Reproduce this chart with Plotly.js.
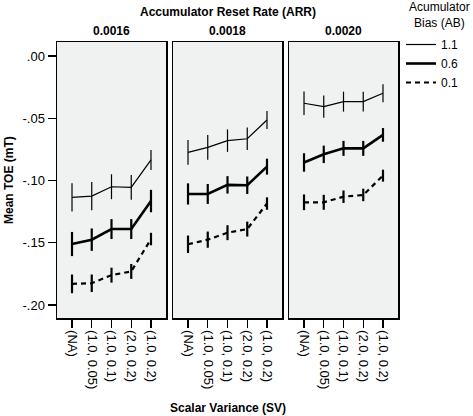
<!DOCTYPE html>
<html>
<head>
<meta charset="utf-8">
<script src="https://cdn.plot.ly/plotly-3.0.1.min.js"></script>
<style>html,body{margin:0;padding:0;background:#fff;}#chart{width:473px;height:416px;}</style>
</head>
<body>
<div id="chart"></div>
<script>
// Data
const categories = ["(NA)", "(1.0, 0.05)", "(1.0, 0.1)", "(2.0, 0.2)", "(1.0, 0.2)"];
const panelTitles = ["0.0016", "0.0018", "0.0020"];
const biasLevels = ["1.1", "0.6", "0.1"];

const arr0016_ab11 = [-0.1135, -0.1125, -0.105, -0.1055, -0.0835];
const arr0016_ab06 = [-0.151, -0.1475, -0.139, -0.139, -0.1165];
const arr0016_ab01 = [-0.183, -0.1825, -0.176, -0.173, -0.147];
const arr0018_ab11 = [-0.0774, -0.0734, -0.068, -0.0665, -0.0514];
const arr0018_ab06 = [-0.1108, -0.1108, -0.1035, -0.1038, -0.0889];
const arr0018_ab01 = [-0.1512, -0.1475, -0.1419, -0.139, -0.1185];
const arr0020_ab11 = [-0.038, -0.0407, -0.0367, -0.0367, -0.030];
const arr0020_ab06 = [-0.0855, -0.079, -0.0742, -0.0742, -0.0634];
const arr0020_ab01 = [-0.1175, -0.1175, -0.113, -0.1116, -0.0961];

const err0016_ab11 = [0.0113, 0.0113, 0.010, 0.010, 0.008];
const err0016_ab06 = [0.0097, 0.009, 0.008, 0.008, 0.009];
const err0016_ab01 = [0.0075, 0.007, 0.006, 0.006, 0.005];
const err0018_ab11 = [0.010, 0.010, 0.009, 0.009, 0.0072];
const err0018_ab06 = [0.0085, 0.008, 0.007, 0.007, 0.0064];
const err0018_ab01 = [0.007, 0.0065, 0.006, 0.006, 0.005];
const err0020_ab11 = [0.0094, 0.009, 0.008, 0.008, 0.0072];
const err0020_ab06 = [0.0074, 0.007, 0.006, 0.006, 0.0055];
const err0020_ab01 = [0.0063, 0.006, 0.005, 0.005, 0.0048];

const yTickVals = [0, -0.05, -0.10, -0.15, -0.20];
const yTickText = [".00", "-.05", "-.10", "-.15", "-.20"];

const panels = [
  {vals: [arr0016_ab11, arr0016_ab06, arr0016_ab01], errs: [err0016_ab11, err0016_ab06, err0016_ab01]},
  {vals: [arr0018_ab11, arr0018_ab06, arr0018_ab01], errs: [err0018_ab11, err0018_ab06, err0018_ab01]},
  {vals: [arr0020_ab11, arr0020_ab06, arr0020_ab01], errs: [err0020_ab11, err0020_ab06, err0020_ab01]}
];

const styles = [
  {width: 1.2, dash: "solid", ew: 1.2},
  {width: 2.6, dash: "solid", ew: 2.2},
  {width: 2.2, dash: "5px,4px", ew: 2.2}
];

const traces = [];
panels.forEach((p, pi) => {
  const ax = pi === 0 ? "" : String(pi + 1);
  p.vals.forEach((v, si) => {
    traces.push({
      type: "scatter", mode: "lines",
      x: categories, y: v,
      xaxis: "x" + ax, yaxis: "y" + ax,
      name: biasLevels[si], legendgroup: biasLevels[si],
      showlegend: pi === 0,
      line: {color: "#000", width: styles[si].width, dash: styles[si].dash},
      error_y: {type: "data", array: p.errs[si], visible: true, color: "#000", thickness: styles[si].ew, width: 0},
      hoverinfo: "skip"
    });
  });
});

const W = 473, H = 416;
const L = 57, R = 75, T = 42, B = 98;
const pw = W - L - R;
const ph = H - T - B;
const doms = [[0, 109/pw], [116/pw, 225/pw], [232/pw, 1]];
const fam = "Liberation Sans, Arial, sans-serif";
const font = {family: fam, size: 12, color: "#000"};
const yr = [-0.2104, 0.0112];

const layout = {
  width: W, height: H,
  margin: {l: L, r: R, t: T, b: B, autoexpand: false},
  paper_bgcolor: "#fff", plot_bgcolor: "#eff2f0",
  font: font,
  showlegend: true,
  legend: {
    x: (401 - L) / pw, y: (H - B - 30) / ph, xanchor: "left", yanchor: "top",
    bgcolor: "rgba(0,0,0,0)",
    font: {family: fam, size: 12},
    itemwidth: 30, tracegroupgap: 0
  },
  annotations: [
    {text: "<b>Accumulator Reset Rate (ARR)</b>", xref: "paper", yref: "paper", x: 0.5, y: 1 + 30/ph, xanchor: "center", yanchor: "middle", showarrow: false, font: {family: fam, size: 12}},
    {text: "<b>Scalar Variance (SV)</b>", xref: "paper", yref: "paper", x: 0.5, y: -90/ph, xanchor: "center", yanchor: "middle", showarrow: false, font: {family: fam, size: 12}},
    {text: "<b>Mean TOE (mT)</b>", xref: "paper", yref: "paper", x: -48/pw, y: 0.5, xanchor: "center", yanchor: "middle", textangle: -90, showarrow: false, font: {family: fam, size: 12}},
    {text: "Acumulator<br>Bias (AB)", xref: "paper", yref: "paper", x: (440 - L)/pw, y: (H - B - 15)/ph, xanchor: "center", yanchor: "middle", align: "center", showarrow: false, font: {family: fam, size: 12}}
  ]
};

doms.forEach((d, i) => {
  const k = i === 0 ? "" : String(i + 1);
  layout["xaxis" + k] = {
    domain: d, type: "category", range: [-0.76, 4.76],
    showline: true, linecolor: "#000", linewidth: 1.5, mirror: true,
    ticks: "outside", ticklen: 8, tickcolor: "#000", tickwidth: 1.2,
    tickangle: 90, showgrid: false, zeroline: false,
    anchor: "y" + k, tickfont: {family: fam, size: 13}
  };
  layout["yaxis" + k] = {
    domain: [0, 1], range: yr, anchor: "x" + k,
    showline: true, linecolor: "#000", linewidth: 1.5, mirror: true,
    tickvals: yTickVals, ticktext: yTickText,
    ticks: i === 0 ? "outside" : "", ticklen: 8, tickcolor: "#000", tickwidth: 1.2,
    showticklabels: i === 0, showgrid: false, zeroline: false,
    tickfont: {family: fam, size: 13}
  };
  layout.annotations.push({
    text: "<b>" + panelTitles[i] + "</b>", xref: "paper", yref: "paper",
    x: (d[0] + d[1]) / 2, y: 1 + 11/ph, xanchor: "center", yanchor: "middle",
    showarrow: false, font: {family: fam, size: 12}
  });
});

Plotly.newPlot("chart", traces, layout, {displayModeBar: false, staticPlot: true});
</script>
</body>
</html>
